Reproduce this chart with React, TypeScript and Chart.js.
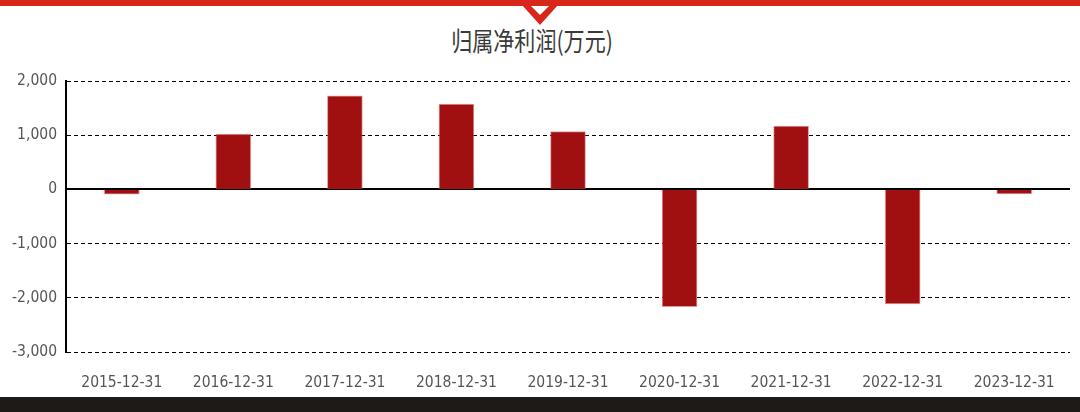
import React, { useEffect, useRef } from "react";
import { Chart, registerables } from "chart.js";

Chart.register(...registerables);

const categories = [
  "2015-12-31", "2016-12-31", "2017-12-31", "2018-12-31", "2019-12-31",
  "2020-12-31", "2021-12-31", "2022-12-31", "2023-12-31",
];
const netProfit = [-90, 1020, 1725, 1572, 1066, -2165, 1170, -2115, -85];
const yTicks = [-3000, -2000, -1000, 0, 1000, 2000];
const title = "归属净利润(万元)";

const FONT = "'DejaVu Sans Condensed', 'Noto Sans', sans-serif";

export default function App() {
  const ref = useRef<HTMLCanvasElement | null>(null);

  useEffect(() => {
    if (!ref.current) return;
    const zeroLine = {
      id: "zeroLine",
      beforeDatasetsDraw(chart: any) {
        const { ctx, chartArea, scales } = chart;
        const y = Math.round(scales.y.getPixelForValue(0));
        ctx.save();
        ctx.strokeStyle = "#000";
        ctx.lineWidth = 2;
        ctx.beginPath();
        ctx.moveTo(chartArea.left, y);
        ctx.lineTo(chartArea.right, y);
        ctx.stroke();
        ctx.restore();
      },
    };
    const chart = new Chart(ref.current, {
      type: "bar",
      data: {
        labels: categories,
        datasets: [
          {
            data: netProfit,
            backgroundColor: "#a01010",
            borderColor: "rgba(205,90,90,0.6)",
            borderWidth: 1,
            barThickness: 35,
          },
        ],
      },
      plugins: [zeroLine],
      options: {
        responsive: false,
        animation: false,
        layout: { padding: { top: 21, right: 10, left: 0, bottom: 0 } },
        plugins: { legend: { display: false }, tooltip: { enabled: false } },
        scales: {
          x: {
            grid: { display: false },
            border: { display: false },
            ticks: {
              color: "#555",
              font: { family: FONT, size: 15.5 },
              padding: 14,
              maxRotation: 0,
              autoSkip: false,
            },
            afterFit: (s: any) => {
              s.height = 45;
            },
          },
          y: {
            min: Math.min(...yTicks),
            max: Math.max(...yTicks),
            afterBuildTicks: (s: any) => {
              s.ticks = yTicks.map((v) => ({ value: v }));
            },
            grid: {
              color: (c: any) => (c.tick && c.tick.value === 0 ? "rgba(0,0,0,0)" : "#000"),
              lineWidth: 1,
              drawTicks: false,
            },
            border: { display: true, color: "#000", width: 2, dash: [4, 3] },
            ticks: {
              color: "#555",
              font: { family: FONT, size: 15.5 },
              padding: 9,
              callback: (v: any) => Number(v).toLocaleString("en-US"),
            },
            afterFit: (s: any) => {
              s.width = 66;
            },
          },
        },
      },
    });
    return () => chart.destroy();
  }, []);

  return (
    <div
      style={{
        position: "fixed",
        left: 0,
        top: 0,
        width: 1080,
        height: 412,
        background: "#fff",
        overflow: "hidden",
      }}
    >
      <div style={{ position: "absolute", left: 0, top: 0, width: 1080, height: 6, background: "#d9261c" }} />
      <svg style={{ position: "absolute", left: 0, top: 0 }} width={1080} height={30}>
        <polygon points="522,5 558,5 540,25" fill="#d9261c" />
        <polygon points="531,6 549,6 540,15" fill="#fff" />
      </svg>
      <div
        style={{
          position: "absolute",
          left: -8,
          top: 23,
          width: 1080,
          textAlign: "center",
          fontFamily: "'Noto Sans CJK SC', sans-serif",
          fontSize: 26,
          lineHeight: "34px",
          color: "#3a3a3a",
          transform: "scaleX(0.81)",
        }}
      >
        {title}
      </div>
      <div style={{ position: "absolute", left: 0, top: 60, width: 1080, height: 337 }}>
        <canvas ref={ref} width={1080} height={337} />
      </div>
      <div style={{ position: "absolute", left: 0, top: 397, width: 1080, height: 15, background: "#1e1a17" }} />
    </div>
  );
}
